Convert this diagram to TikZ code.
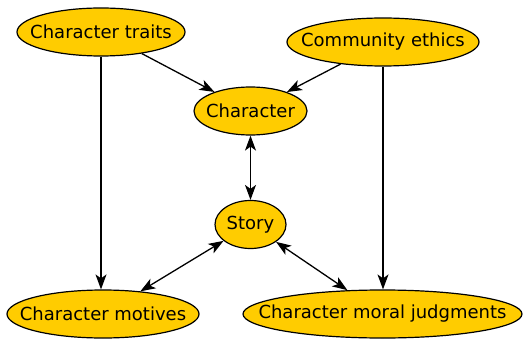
\documentclass[tikz,border=0pt]{standalone}
\usepackage{fontspec}
\setmainfont{DejaVu Sans}
\usepackage{tikz}
\usetikzlibrary{shapes.geometric, arrows.meta}
\definecolor{gold}{HTML}{FFCC00}
\newcommand{\ctext}[1]{\makebox[0pt]{#1}}

\begin{document}
\begin{tikzpicture}[x=1pt, y=-1pt,
    blob/.style={draw, ellipse, fill=gold, line width=1.2pt, inner sep=0pt, minimum height=48pt, font=\fontsize{18}{21}\selectfont},
    link/.style={line width=1.3pt, -{Stealth[length=15pt, width=11pt, inset=4pt]}},
    twoway/.style={link, {Stealth[length=15pt, width=11pt, inset=4pt]}-{Stealth[length=15pt, width=11pt, inset=4pt]}}]
                  \useasboundingbox (0,0) rectangle (529,339);
                  % Nodes
                  \node [blob, minimum width=168pt] (traits) at (101,32) {\ctext{Character traits}};
                  \node [blob, minimum width=192pt] (ethics) at (383,42) {\ctext{Community ethics}};
                  \node [blob, minimum width=113pt] (character) at (250.5,111) {\ctext{Character}};
                  \node [blob, minimum width=71pt] (story) at (250.5,224.5) {\ctext{Story}};
                  \node [blob, minimum width=192pt] (motives) at (103,314) {\ctext{Character motives}};
                  \node [blob, minimum width=279pt] (moral) at (382.5,314) {\ctext{Character moral judgments}};

                  % Arrows
                  \draw [link] (traits) -- (character);
                  \draw [link] (ethics) -- (character);
                  \draw [link] (traits) -- (traits |- motives.north);
                  \draw [link] (ethics) -- (ethics |- moral.north);
                  \draw [twoway] (character) -- (story);
                  \draw [twoway] (story) -- (motives);
                  \draw [twoway] (story) -- (moral);
\end{tikzpicture}
\end{document}
